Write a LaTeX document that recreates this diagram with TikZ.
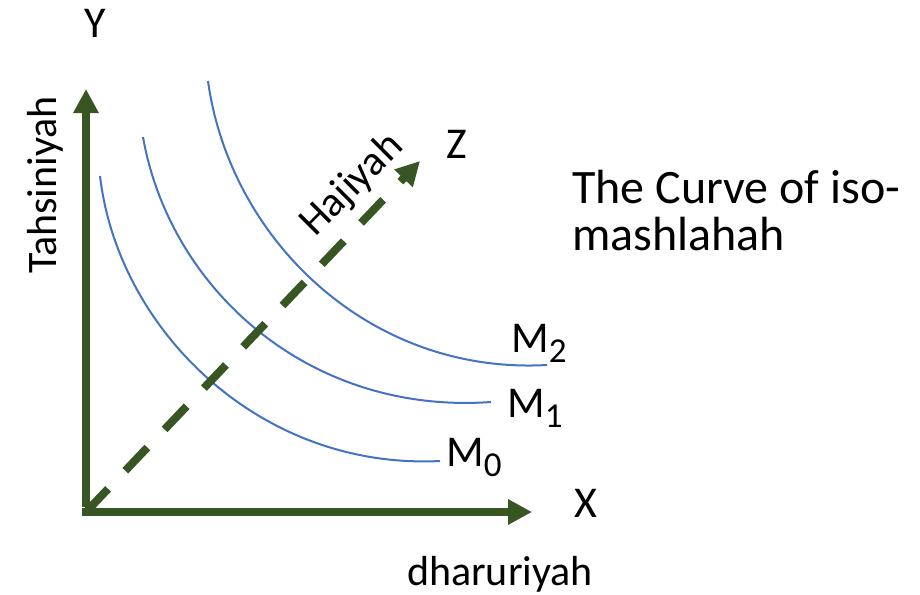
\documentclass[tikz,border=0pt]{standalone}
\usepackage{fontspec}
\setmainfont{Carlito}
\usetikzlibrary{arrows.meta}
\definecolor{axgreen}{HTML}{375623}
\definecolor{curveblue}{HTML}{4472C4}
\newcommand{\msub}[1]{\raisebox{-10pt}{\fontsize{35}{35}\selectfont #1}}
\tikzset{
  axis/.style={draw=axgreen, line width=8pt, -{Triangle[width=24pt,length=24pt]}},
  zaxis/.style={axis, dash pattern=on 32pt off 25pt},
  iso/.style={draw=curveblue, line width=2pt},
  lbl/.style={inner sep=0pt, font=\fontsize{42}{50}\selectfont},
  big/.style={inner sep=0pt, font=\fontsize{44}{50}\selectfont},
  title/.style={inner sep=0pt, font=\fontsize{48}{56}\selectfont},
}
\begin{document}
\begin{tikzpicture}[x=1pt,y=-1pt]
\useasboundingbox (0,0) rectangle (920,594);
\coordinate (O) at (86,512);
\coordinate (Ytip) at (86,89);
\coordinate (Xtip) at (532,512);
\coordinate (Ztip) at (420,161);
% iso-mashlahah curves
\draw[iso] (100,176) .. controls (118,330) and (260,470) .. (440,461) coordinate (m0end);
\draw[iso] (143,137) .. controls (170,290) and (310,415) .. (491,402) coordinate (m1end);
\draw[iso] (208,81) .. controls (230,240) and (370,375) .. (547,365) coordinate (m2end);
% axes
\draw[axis] ([yshift=5pt]O) -- (Ytip);
\draw[axis] ([xshift=-4pt]O) -- (Xtip);
\draw[zaxis] (O) -- (Ztip);
% labels
\node[big] (Y) at (95,23) {Y};
\node[big] (Z) at (457,144) {Z};
\node[big] (X) at (586,503) {X};
\node[lbl, anchor=base] (dh) at (500,585) {dharuriyah};
\node[lbl, anchor=base, rotate=90] (ta) at (56,185) {Tahsiniyah};
\node[lbl, anchor=base, rotate=45] (ha) at (360,193) {Hajiyah};
\node[title, anchor=base west] (t1) at (572,203) {The Curve of iso-};
\node[title, anchor=base west] (t2) at (572,250) {mashlahah};
\node[big, anchor=base west] (m2) at (511,352) {M\msub{2}};
\node[big, anchor=base west] (m1) at (507,417) {M\msub{1}};
\node[big, anchor=base west] (m0) at (446,466) {M\msub{0}};
\end{tikzpicture}
\end{document}
